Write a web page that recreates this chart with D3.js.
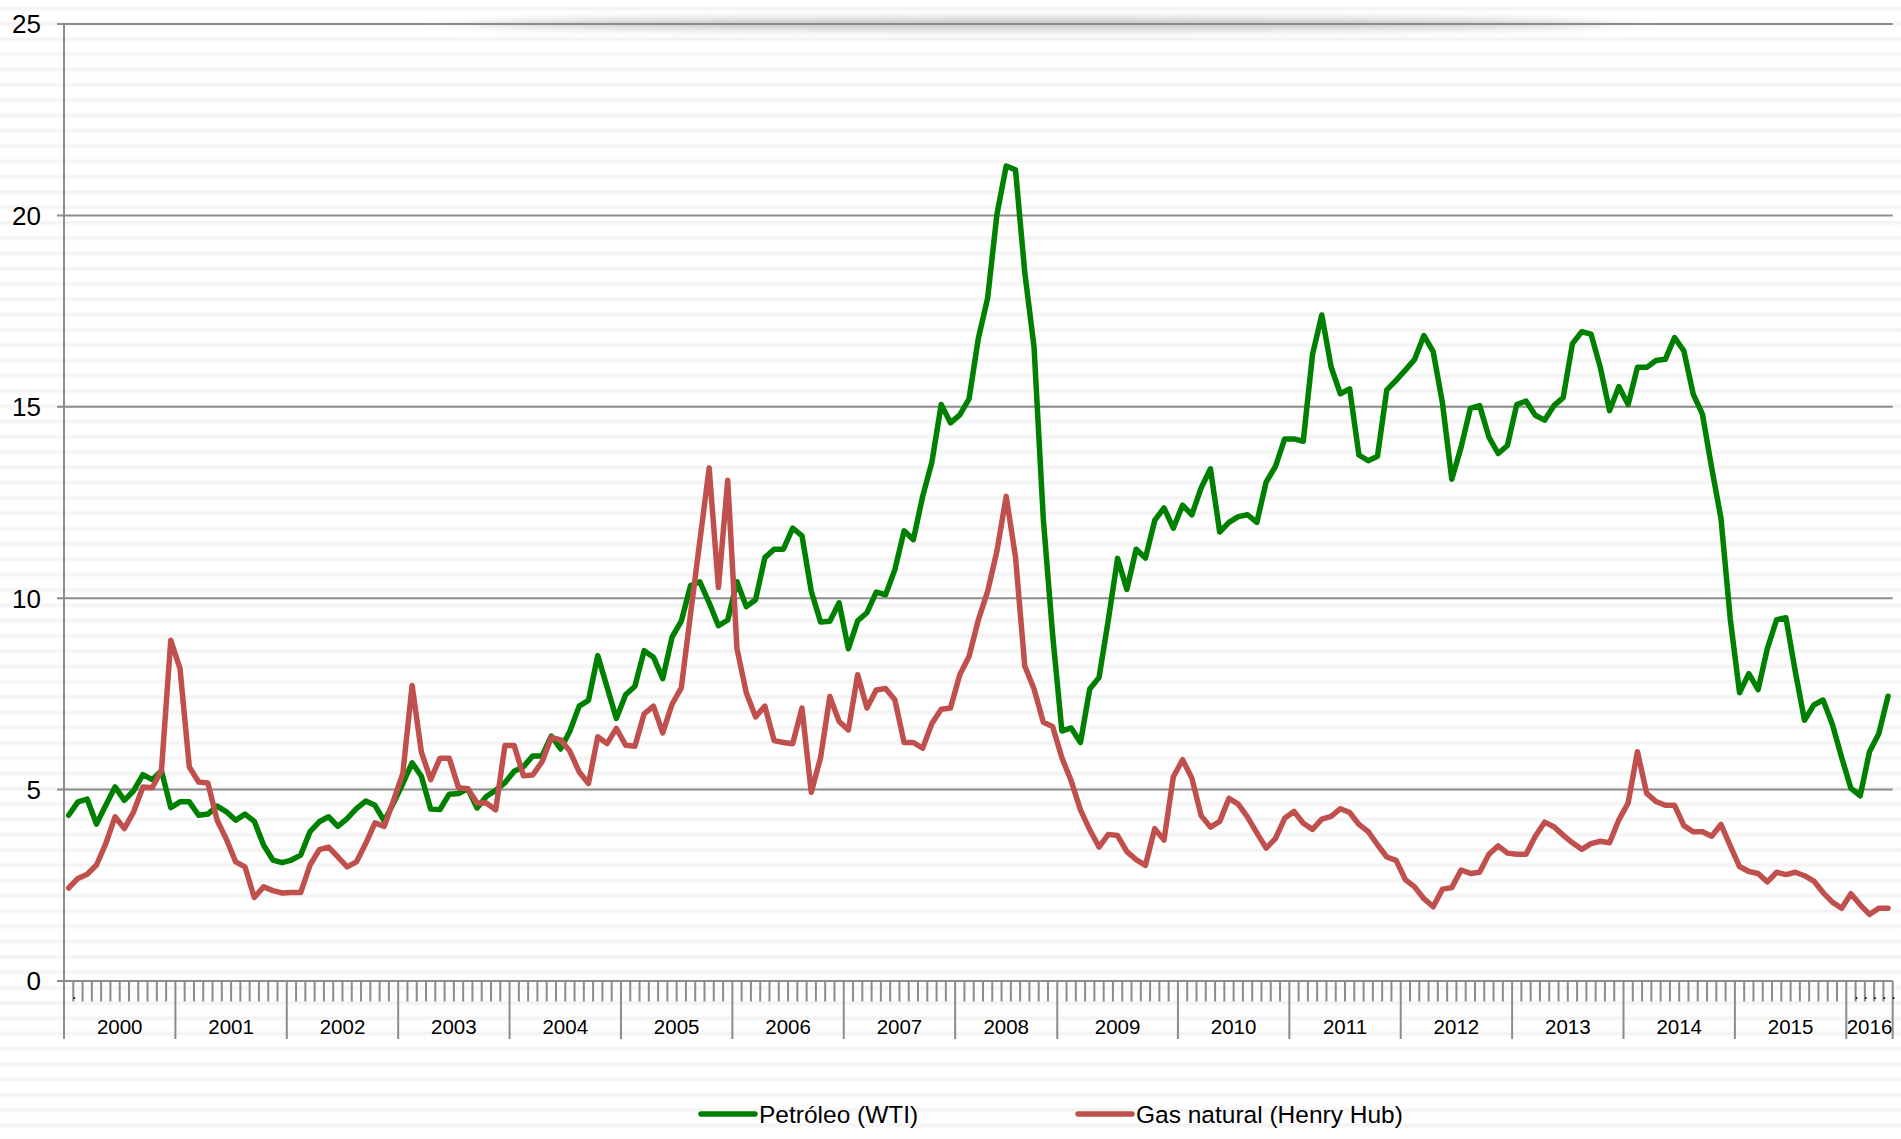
<!DOCTYPE html>
<html>
<head>
<meta charset="utf-8">
<script src="https://cdn.jsdelivr.net/npm/d3@7"></script>
<style>
  body { margin: 0; background: #fff; }
  svg { display: block; font-family: "Liberation Sans", Arial, sans-serif; }
</style>
</head>
<body>
<svg id="chart" width="1901" height="1139"></svg>
<script>
// categories: one per month, Jan 2000 .. May 2016, grouped by year
// (the source groups 11 points under 2008 and 13 under 2009)
const years = ["2000", "2001", "2002", "2003", "2004", "2005", "2006", "2007", "2008",
  "2009", "2010", "2011", "2012", "2013", "2014", "2015", "2016"];
const monthsPerYear = [12, 12, 12, 12, 12, 12, 12, 12, 11, 13, 12, 12, 12, 12, 12, 12, 5];

// inner (month) labels: only a few "." show up in the original
const monthLabelAt = { 0: ".", 192: ".", 193: ".", 194: ".", 195: ".", 196: "." };

const yTicks = [0, 5, 10, 15, 20, 25];

const seriesNames = ["Petróleo (WTI)", "Gas natural (Henry Hub)"];
const seriesColors = ["#008000", "#c0504d"];

const wti = [
  4.33, 4.68, 4.75, 4.10, 4.59, 5.07, 4.72, 4.97, 5.39, 5.26, 5.49, 4.53,
  4.68, 4.68, 4.33, 4.36, 4.57, 4.42, 4.20, 4.36, 4.17, 3.55, 3.16, 3.09,
  3.16, 3.29, 3.90, 4.16, 4.29, 4.04, 4.24, 4.50, 4.70, 4.59, 4.18, 4.65,
  5.16, 5.70, 5.35, 4.49, 4.48, 4.88, 4.90, 5.02, 4.52, 4.82, 4.98, 5.18,
  5.48, 5.60, 5.88, 5.88, 6.40, 6.06, 6.53, 7.18, 7.33, 8.50, 7.68, 6.86,
  7.48, 7.70, 8.63, 8.46, 7.90, 8.98, 9.40, 10.33, 10.43, 9.88, 9.28, 9.43,
  10.43, 9.78, 9.96, 11.06, 11.28, 11.28, 11.83, 11.63, 10.18, 9.38, 9.40, 9.88,
  8.68, 9.41, 9.62, 10.16, 10.09, 10.74, 11.76, 11.53, 12.66, 13.56, 15.06, 14.58,
  14.79, 15.21, 16.79, 17.84, 20.02, 21.29, 21.19, 18.51, 16.56, 12.06, 9.05, 6.53,
  6.61, 6.23, 7.63, 7.93, 9.43, 11.04, 10.23, 11.28, 11.05, 12.03, 12.36, 11.83,
  12.43, 12.18, 12.88, 13.38, 11.73, 11.98, 12.13, 12.18, 11.98, 13.03, 13.44, 14.16,
  14.16, 14.10, 16.37, 17.40, 16.04, 15.34, 15.47, 13.74, 13.59, 13.71, 15.44, 15.69,
  15.96, 16.24, 16.86, 16.44, 15.09, 13.11, 13.94, 14.96, 15.03, 14.21, 13.78, 13.99,
  15.06, 15.15, 14.78, 14.65, 15.03, 15.24, 16.65, 16.96, 16.90, 16.03, 14.90, 15.53,
  15.06, 16.03, 16.03, 16.21, 16.24, 16.81, 16.46, 15.34, 14.81, 13.40, 12.09, 9.46,
  7.53, 8.03, 7.61, 8.69, 9.44, 9.49, 8.09, 6.81, 7.21, 7.34, 6.71, 5.84,
  5.03, 4.84, 5.99, 6.46, 7.44
];

const henryHub = [
  2.43, 2.68, 2.79, 3.03, 3.59, 4.29, 3.98, 4.42, 5.07, 5.05, 5.50, 8.90,
  8.16, 5.59, 5.20, 5.17, 4.20, 3.70, 3.11, 2.98, 2.18, 2.46, 2.36, 2.30,
  2.31, 2.31, 3.03, 3.43, 3.50, 3.24, 2.98, 3.11, 3.59, 4.13, 4.04, 4.72,
  5.42, 7.72, 5.98, 5.26, 5.82, 5.82, 5.05, 5.02, 4.65, 4.65, 4.47, 6.15,
  6.15, 5.36, 5.38, 5.73, 6.36, 6.30, 6.00, 5.46, 5.16, 6.38, 6.20, 6.60,
  6.16, 6.13, 6.98, 7.18, 6.48, 7.23, 7.66, 9.60, 11.50, 13.40, 10.28, 13.08,
  8.68, 7.53, 6.90, 7.18, 6.28, 6.23, 6.20, 7.13, 4.93, 5.83, 7.43, 6.78,
  6.56, 8.00, 7.13, 7.60, 7.64, 7.35, 6.23, 6.23, 6.08, 6.73, 7.10, 7.13,
  8.00, 8.48, 9.43, 10.18, 11.23, 12.66, 11.08, 8.23, 7.63, 6.76, 6.65, 5.83,
  5.23, 4.47, 3.95, 3.50, 3.83, 3.80, 3.38, 3.17, 3.02, 3.98, 3.68, 5.33,
  5.78, 5.30, 4.32, 4.02, 4.17, 4.77, 4.62, 4.28, 3.87, 3.47, 3.72, 4.25,
  4.43, 4.12, 3.96, 4.23, 4.30, 4.50, 4.40, 4.09, 3.90, 3.56, 3.24, 3.15,
  2.65, 2.46, 2.15, 1.94, 2.40, 2.44, 2.90, 2.81, 2.84, 3.31, 3.53, 3.34,
  3.31, 3.31, 3.78, 4.15, 4.03, 3.81, 3.61, 3.44, 3.59, 3.65, 3.61, 4.21,
  4.65, 5.99, 4.90, 4.69, 4.59, 4.59, 4.06, 3.90, 3.90, 3.78, 4.09, 3.53,
  2.99, 2.86, 2.81, 2.59, 2.84, 2.78, 2.84, 2.75, 2.61, 2.31, 2.06, 1.90,
  2.28, 1.99, 1.74, 1.90, 1.90
];

const W = 1901, H = 1139;
const plot = { left: 64, right: 1892.7, top: 24, bottom: 981 };

const svg = d3.select("#chart");
const defs = svg.append("defs");

// faint horizontal banding of the background
const grad = defs.append("linearGradient").attr("id", "band")
  .attr("x1", 0).attr("x2", 0).attr("y1", 0).attr("y2", 1);
[[0, "#fff"], [0.3, "#fff"], [0.5, "#f1f1f1"], [0.7, "#fff"], [1, "#fff"]]
  .forEach(([o, c]) => grad.append("stop").attr("offset", o).attr("stop-color", c));
const pat = defs.append("pattern").attr("id", "stripes")
  .attr("patternUnits", "userSpaceOnUse")
  .attr("width", 20).attr("height", 15.3).attr("y", 0.8);
pat.append("rect").attr("width", 20).attr("height", 15.3).attr("fill", "url(#band)");

defs.append("filter").attr("id", "blur").attr("x", "-20%").attr("y", "-300%")
  .attr("width", "140%").attr("height", "700%")
  .append("feGaussianBlur").attr("stdDeviation", "30 4");

svg.append("rect").attr("width", W).attr("height", H).attr("fill", "url(#stripes)");

// soft shadow along the top
svg.append("ellipse")
  .attr("cx", 1040).attr("cy", 24).attr("rx", 570).attr("ry", 6)
  .attr("fill", "#9a9a9a").attr("opacity", 0.55).attr("filter", "url(#blur)");

// flatten the categories
const cats = [];
years.forEach((yr, yi) => {
  for (let m = 0; m < monthsPerYear[yi]; m++) cats.push({ year: yr, m, idx: cats.length });
});

const x = d3.scaleBand().domain(cats.map((d) => d.idx)).range([plot.left, plot.right]).padding(0);
const y = d3.scaleLinear().domain([0, 25]).range([plot.bottom, plot.top]);
const step = x.step();

const axisColor = "#8c8c8c";

// gridlines + y ticks
const grid = svg.append("g");
grid.selectAll("line.grid").data(yTicks).join("line").attr("class", "grid")
  .attr("x1", plot.left - 7).attr("x2", plot.right)
  .attr("y1", (d) => y(d)).attr("y2", (d) => y(d))
  .attr("stroke", axisColor).attr("stroke-width", 2);
grid.selectAll("text").data(yTicks).join("text")
  .attr("x", 41).attr("y", (d) => y(d)).attr("dy", "0.36em")
  .attr("text-anchor", "end").attr("font-size", 26).attr("fill", "#000")
  .text((d) => d);

// y axis line
svg.append("line").attr("x1", plot.left).attr("x2", plot.left)
  .attr("y1", plot.top).attr("y2", plot.bottom)
  .attr("stroke", axisColor).attr("stroke-width", 2);

// x axis: month ticks and year separators
const yearStarts = [];
let acc = 0;
monthsPerYear.forEach((n, i) => { yearStarts.push({ year: years[i], start: acc, n }); acc += n; });
const bounds = d3.range(cats.length + 1);
const isYearEdge = new Set(yearStarts.map((d) => d.start).concat([cats.length]));
const xb = (i) => plot.left + i * step;

const xa = svg.append("g");
xa.selectAll("line").data(bounds).join("line")
  .attr("x1", (d) => xb(d)).attr("x2", (d) => xb(d))
  .attr("y1", plot.bottom).attr("y2", (d) => (isYearEdge.has(d) ? 1039 : 1001.5))
  .attr("stroke", axisColor).attr("stroke-width", 2);

xa.selectAll("text.year").data(yearStarts).join("text").attr("class", "year")
  .attr("x", (d) => xb(d.start + d.n / 2)).attr("y", 1027).attr("dy", "0.36em")
  .attr("text-anchor", "middle").attr("font-size", 20.5).attr("fill", "#000")
  .text((d) => d.year);

xa.selectAll("text.month").data(cats.filter((d) => monthLabelAt[d.idx]))
  .join("text").attr("class", "month")
  .attr("x", (d) => x(d.idx) + step / 2 + 5.5).attr("y", 999)
  .attr("text-anchor", "middle").attr("font-size", 16).attr("fill", "#000")
  .text((d) => monthLabelAt[d.idx]);

// series
const line = d3.line().x((d, i) => x(i) + step / 2).y((d) => y(d));
[wti, henryHub].forEach((vals, si) => {
  svg.append("path").datum(vals)
    .attr("d", line)
    .attr("fill", "none").attr("stroke", seriesColors[si])
    .attr("stroke-width", 5.5).attr("stroke-linejoin", "round").attr("stroke-linecap", "round");
});

// legend
const legendX = [701, 1078];
const lg = svg.append("g").selectAll("g").data(seriesNames).join("g")
  .attr("transform", (d, i) => `translate(${legendX[i]},1114)`);
lg.append("line").attr("x1", 0).attr("x2", 54)
  .attr("stroke", (d, i) => seriesColors[i]).attr("stroke-width", 5.5).attr("stroke-linecap", "round");
lg.append("text").attr("x", 58).attr("dy", "0.36em").attr("font-size", 24.5).attr("fill", "#000")
  .text((d) => d);
</script>
</body>
</html>
